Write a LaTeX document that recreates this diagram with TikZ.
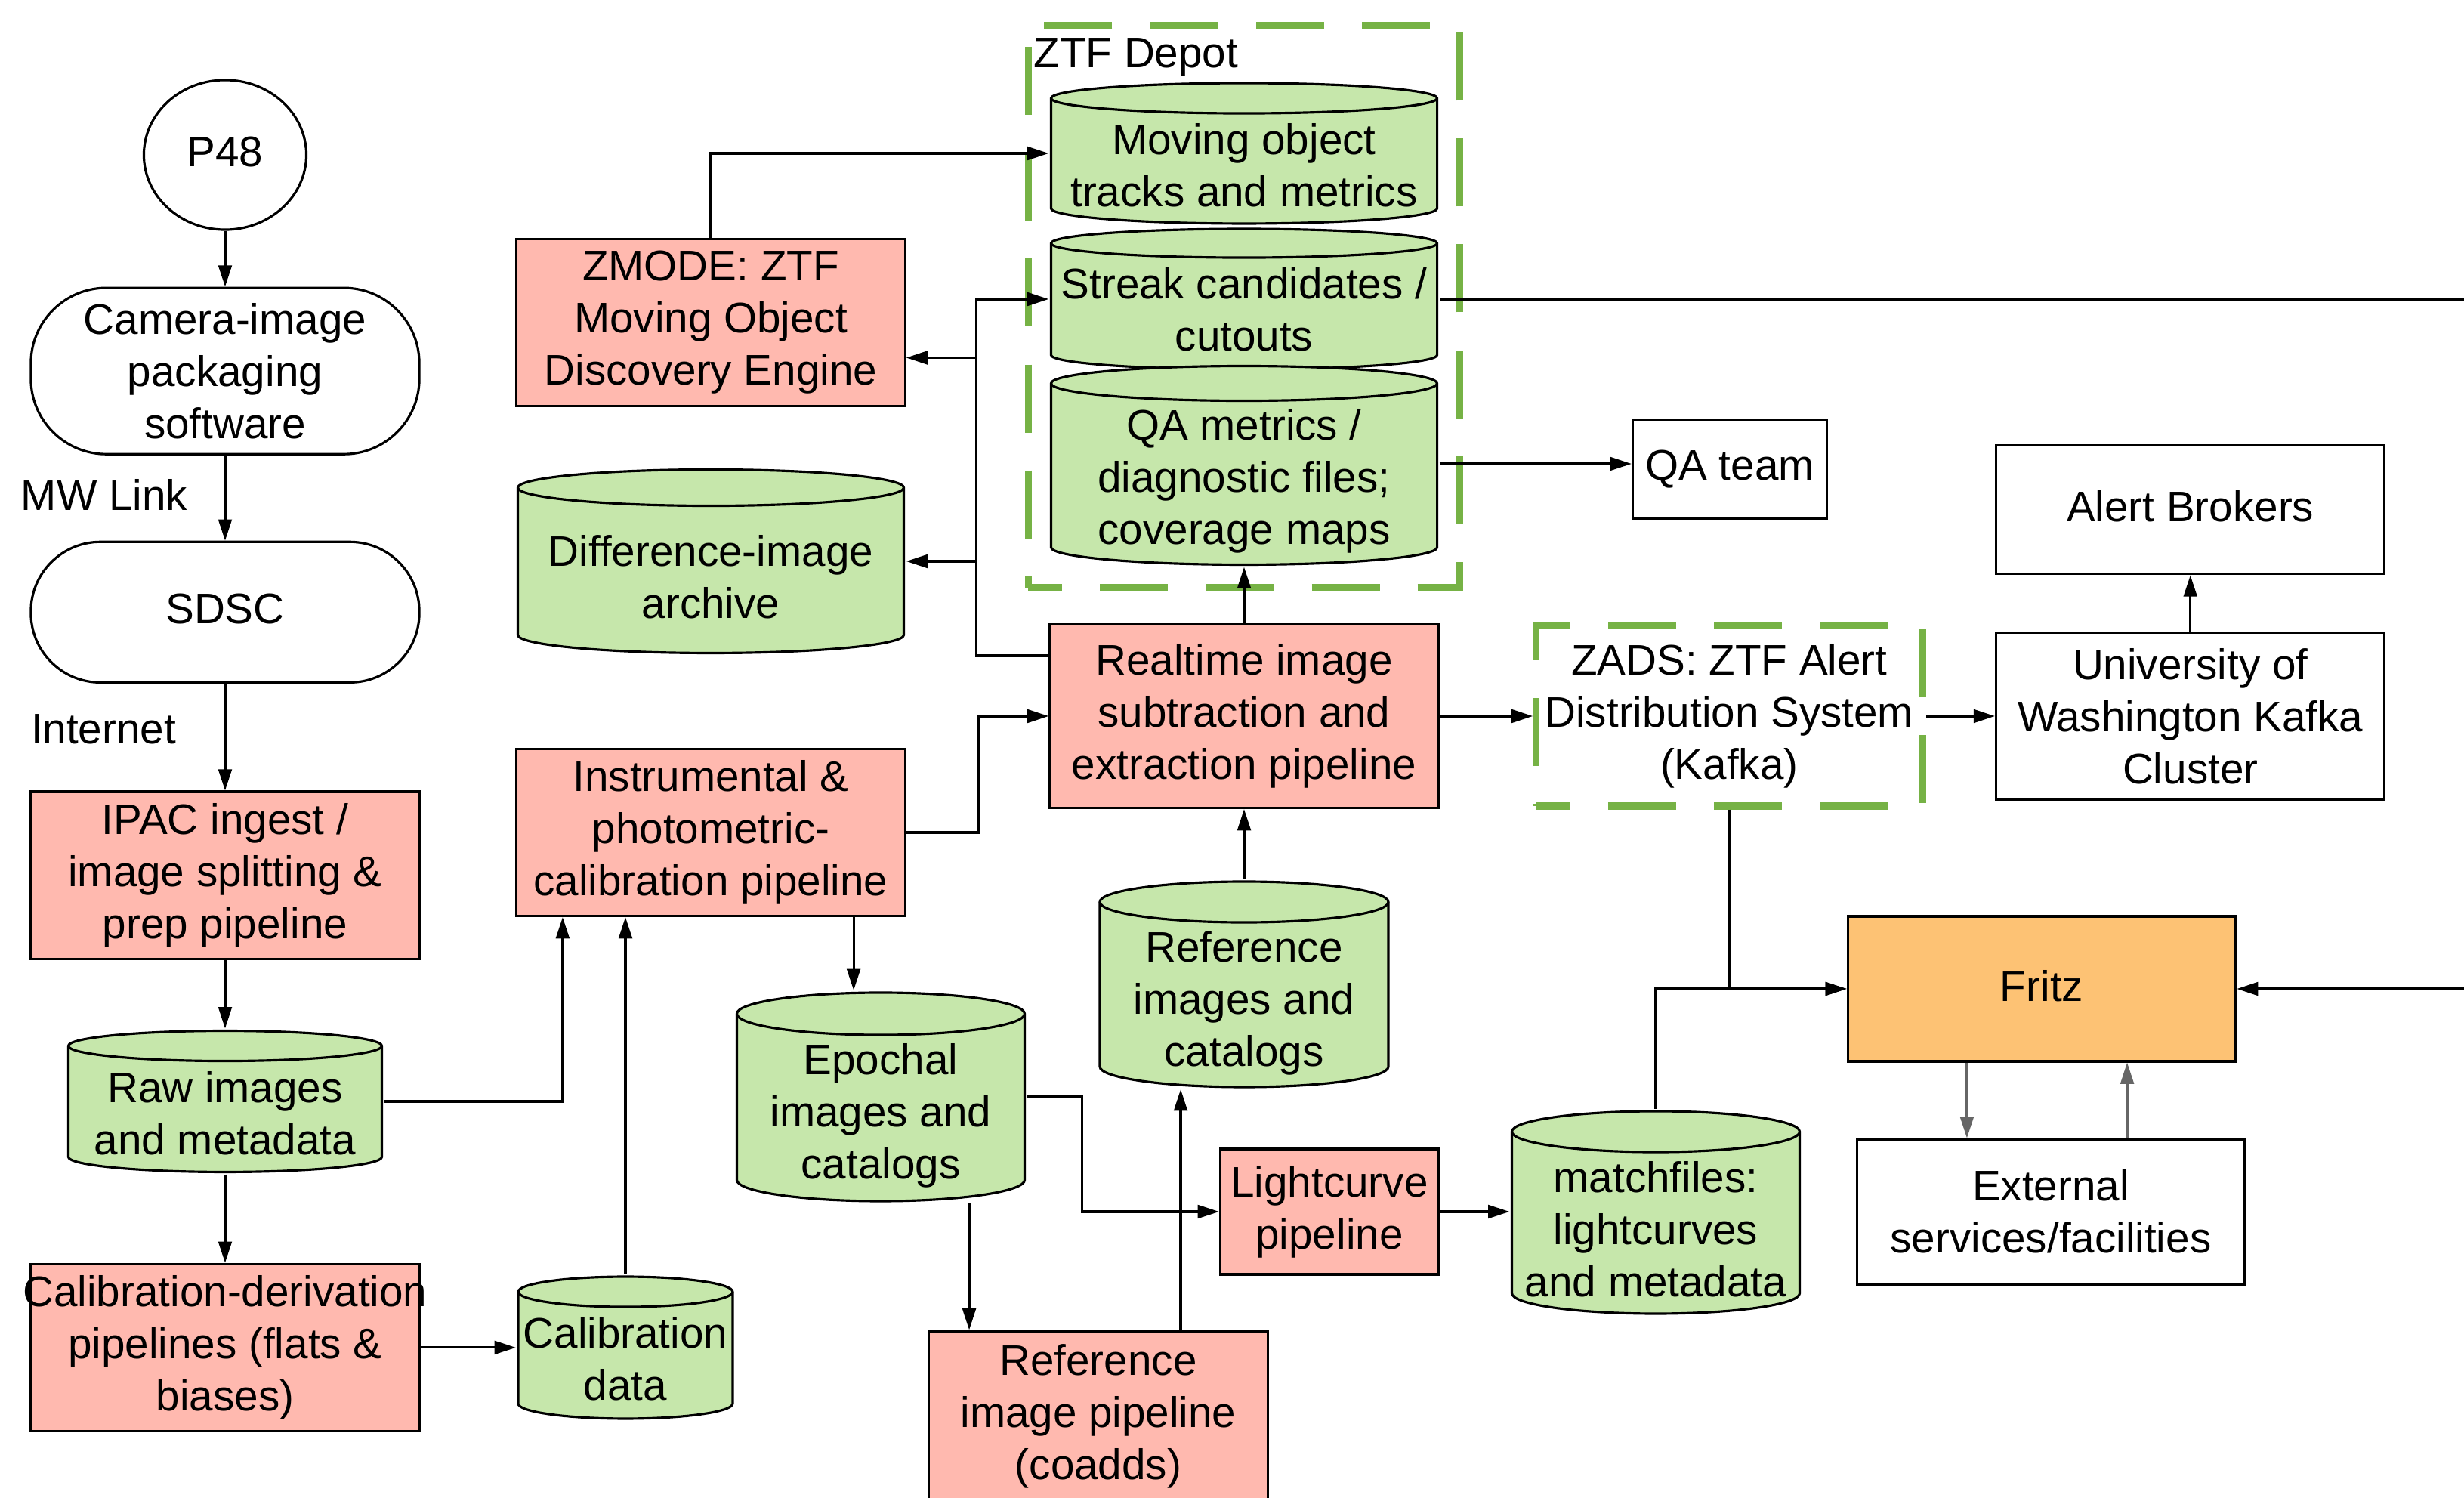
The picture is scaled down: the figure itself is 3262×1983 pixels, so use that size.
\documentclass[tikz,border=0pt]{standalone}
\usepackage{fontspec}
\setmainfont{Liberation Sans}
\usetikzlibrary{positioning, calc, arrows.meta, shapes.geometric}

\definecolor{pipered}{HTML}{FFB9AF}
\definecolor{storegreen}{HTML}{C6E7AB}
\definecolor{fritzorange}{HTML}{FDC274}
\definecolor{depotgreen}{HTML}{76B245}
\definecolor{linkgray}{HTML}{666666}

% strut that pushes the text of a store below its lid
\newcommand{\lift}[1]{\rule{0pt}{#1}}

\begin{document}
\begin{tikzpicture}[x=0.01cm, y=-0.01cm, line width=0.9pt, >={Triangle[length=8pt,width=5pt]}, font=\fontsize{16.1}{19.6}\selectfont]
    \useasboundingbox (0,0) rectangle (3262,1983);
    % Define block styles
    \tikzstyle{block} = [rectangle, draw, fill=pipered, align=center, minimum width=5.14cm, minimum height=2.21cm, inner sep=2pt]
    \tikzstyle{plain} = [rectangle, draw, fill=white, align=center, minimum width=5.14cm, inner sep=2pt]
    \tikzstyle{terminal} = [rectangle, draw, rounded corners=1cm, align=center, minimum width=5.14cm]
    \tikzstyle{dashbox} = [rectangle, draw=depotgreen, line width=2.6pt, dash pattern=on 0.9cm off 0.5cm, dash phase=0.45cm, align=center]
    \tikzstyle{feed} = [->, linkgray]
    % store = width, height, lid radius
    \tikzset{store/.style n args={3}{rectangle, align=center, inner sep=1pt, minimum width=#1, minimum height=#2,
        path picture={
            \draw [fill=storegreen]
                ([xshift=0.45pt, yshift=-#3-0.45pt]path picture bounding box.north west)
                -- ([xshift=0.45pt, yshift=#3+0.45pt]path picture bounding box.south west)
                arc [start angle=180, end angle=360, x radius=#1/2-0.45pt, y radius=#3]
                -- ([xshift=-0.45pt, yshift=-#3-0.45pt]path picture bounding box.north east)
                arc [start angle=0, end angle=180, x radius=#1/2-0.45pt, y radius=#3] -- cycle;
            \draw ([xshift=0.45pt, yshift=-#3-0.45pt]path picture bounding box.north west)
                arc [start angle=180, end angle=360, x radius=#1/2-0.45pt, y radius=#3];
        }}}

    % Place nodes: left column
    \node [ellipse, draw, minimum width=2.15cm, minimum height=1.98cm, text depth=0.25em] (p48) at (298,205) {P48};
    \node [terminal, minimum height=2.2cm, below of=p48, node distance=2.86cm] (camera) {Camera-image\\packaging\\software};
    \node [terminal, minimum height=1.86cm, rounded corners=0.92cm, text depth=0.25em, below of=camera, node distance=3.19cm] (sdsc) {SDSC};
    \node [block, below of=sdsc, node distance=3.48cm] (ipac) {IPAC ingest /\\image splitting \&\\prep pipeline};
    \node [store={4.18cm}{1.9cm}{0.2cm}] (raw) at (298,1458) {\lift{20.5pt}Raw images\\and metadata};
    \node [block, below of=ipac, node distance=6.25cm] (calibderiv) {\makebox[0pt]{Calibration-derivation}\\pipelines (flats \&\\biases)};
    \node [store={2.87cm}{1.91cm}{0.2cm}] (caldata) at (828,1784) {\lift{20pt}Calibration\\data};

    % Place nodes: middle column
    \node [block] (zmode) at (941,427) {ZMODE: ZTF\\Moving Object\\Discovery Engine};
    \node [store={5.14cm}{2.46cm}{0.24cm}] (diffarch) at (941,743) {\lift{23.4pt}Difference-image\\archive};
    \node [block] (instr) at (941,1102) {Instrumental \&\\photometric-\\calibration pipeline};
    \node [store={3.84cm}{2.79cm}{0.28cm}] (epochal) at (1166,1452) {\lift{25.6pt}Epochal\\images and\\catalogs};
    \node [block, minimum width=4.49cm, minimum height=2.26cm] (refpipe) at (1454,1875) {Reference\\image pipeline\\(coadds)};

    % Place nodes: ZTF Depot and realtime column
    \node [dashbox, minimum width=5.71cm, minimum height=7.44cm] (depot) at (1647,405.5) {};
    \node [anchor=base west, inner sep=0pt] (depotlabel) at (1367,90) {ZTF Depot};
    \node [store={5.14cm}{1.89cm}{0.2cm}] (moving) at (1647,203) {\lift{20.5pt}Moving object\\tracks and metrics};
    \node [store={5.14cm}{1.89cm}{0.19cm}] (streak) at (1647,396) {\lift{19.5pt}Streak candidates /\\cutouts};
    \node [store={5.14cm}{2.66cm}{0.23cm}] (qa) at (1647,616) {\lift{23.4pt}QA metrics /\\diagnostic files;\\coverage maps};
    \node [block, minimum height=2.43cm] (realtime) at (1647,948) {Realtime image\\subtraction and\\extraction pipeline};
    \node [store={3.85cm}{2.75cm}{0.27cm}] (refimg) at (1647,1303) {\lift{25.6pt}Reference\\images and\\catalogs};
    \node [block, minimum width=2.89cm, minimum height=1.66cm] (lightcurve) at (1760,1604) {Lightcurve\\pipeline};

    % Place nodes: alert side
    \node [dashbox, minimum width=5.08cm, minimum height=2.38cm, right of=realtime, node distance=6.42cm] (zads) {ZADS: ZTF Alert\\Distribution System\\(Kafka)};
    \node [plain, minimum height=2.21cm, right of=zads, node distance=6.1cm] (uw) {University of\\Washington Kafka\\Cluster};
    \node [plain, minimum height=1.7cm, text depth=0.25em, above of=uw, node distance=2.73cm] (brokers) {Alert Brokers};
    \node [plain, minimum width=2.57cm, minimum height=1.31cm] (qateam) at (2290,621) {QA team};
    \node [rectangle, draw, fill=fritzorange, minimum width=5.13cm, minimum height=1.92cm, text depth=0.25em] (fritz) at (2703,1309) {Fritz};
    \node [plain, minimum width=5.12cm, minimum height=1.92cm, below of=fritz, node distance=2.95cm, xshift=0.12cm] (external) {External\\services/facilities};
    \node [store={3.84cm}{2.71cm}{0.27cm}] (match) at (2192,1605) {\lift{24.5pt}matchfiles:\\lightcurves\\and metadata};

    % Draw connections as arrows
    \draw [->] (p48) -- (camera);
    \draw [->] (camera) -- (sdsc);
    \draw [->] (sdsc) -- (ipac);
    \draw [->] (ipac) -- (raw);
    \draw [->] (raw) -- (calibderiv);
    \draw [->] (calibderiv.east) -- (calibderiv.east -| caldata.west);
    \draw [->] (raw.east) -| ([xshift=-1.96cm]instr.south);
    \draw [->] (caldata.north) -- (caldata.north |- instr.south);
    \draw [->] ([xshift=1.89cm]instr.south) -- ([xshift=1.89cm]instr.south |- epochal.north);
    \draw [->] (instr.east) -- ++(0.96cm,0) |- (realtime.west);
    \coordinate (bus) at ([xshift=-0.96cm]realtime.west);
    \coordinate (zmodein) at ([yshift=-0.465cm]zmode.east);
    \draw [->] ([yshift=0.8cm]realtime.west) -- ([yshift=0.8cm]bus) |- (streak.west);
    \draw [->] (bus |- zmodein) -- (zmodein);
    \draw [->] (bus |- diffarch.east) -- (diffarch.east);
    \draw [->] (zmode.north) |- (moving.west);
    \draw [->] (realtime.north) -- (qa.south);
    \draw [->] ([yshift=0.02cm]qa.east) -- ([yshift=0.02cm]qa.east -| qateam.west);
    \draw [->] (streak.east) -- ++(14.5cm,0) |- (fritz.east);
    \draw [->] (realtime.east) -- (zads.west);
    \draw [->] (zads.east) -- (uw.west);
    \draw [->] (uw.north) -- (brokers.south);
    \draw [->] (zads.south) |- (fritz.west);
    \draw [->] (match.north) |- (fritz.west);
    \draw [feed] ([xshift=-0.99cm]fritz.south) -- ([xshift=-0.99cm]fritz.south |- external.north);
    \draw [feed] ([xshift=1.13cm]fritz.south |- external.north) -- ([xshift=1.13cm]fritz.south);
    \draw [->] (epochal.east) -- ++(0.73cm,0) |- (lightcurve.west);
    \draw [->] ([xshift=1.17cm]epochal.south) -- ([xshift=1.17cm]epochal.south |- refpipe.north);
    \draw [->] ([xshift=1.09cm]refpipe.north) -- ([xshift=1.09cm]refpipe.north |- refimg.south);
    \draw [->] (refimg.north) -- (realtime.south);
    \draw [->] (lightcurve.east) -- (lightcurve.east -| match.west);

    % Add text on the links
    \node [anchor=base] (mwlink) at (138,676) {MW Link};
    \node [anchor=base] (internet) at (137,985) {Internet};
\end{tikzpicture}
\end{document}
